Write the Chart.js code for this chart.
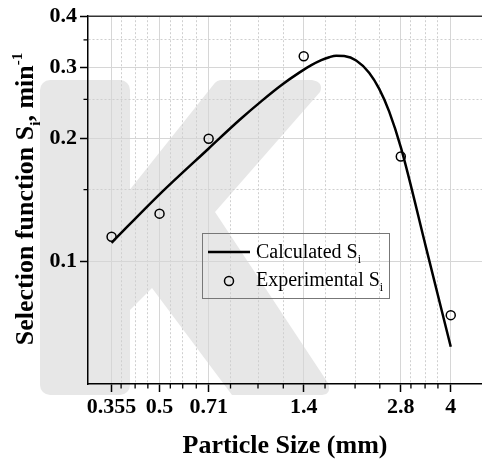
<!DOCTYPE html>
<html><head><meta charset="utf-8">
<script src="https://cdn.jsdelivr.net/npm/chart.js@4"></script>
<style>html,body{margin:0;padding:0;background:#fff}#wrap{width:482px;height:459px;position:relative}</style>
</head><body><div id="wrap"><canvas id="c"></canvas></div>
<script>
// ---- data ----
const calcX = [0.355, 0.5, 0.709, 0.89, 1.042, 1.201, 1.356, 1.478, 1.587, 1.68, 1.765, 1.869, 2.036, 2.233, 2.398, 2.576, 2.807, 3.353, 4.0];
const calcY = [0.1111, 0.1461, 0.1891, 0.2233, 0.2485, 0.2718, 0.2907, 0.3032, 0.3119, 0.3172, 0.3199, 0.3193, 0.3115, 0.2907, 0.2656, 0.2336, 0.1894, 0.1081, 0.0617];
const expX = [0.355, 0.5, 0.71, 1.4, 2.8, 4];
const expY = [0.115, 0.131, 0.200, 0.319, 0.181, 0.0738];
const xMajorTicks = [0.355, 0.5, 0.71, 1.4, 2.8, 4];
const xMinorTicks = [0.38, 0.42, 0.46, 0.54, 0.59, 0.65, 0.83, 1.01, 1.21, 1.63, 2.02, 2.41, 3.01, 3.33, 3.65];
const yMajorTicks = [0.1, 0.2, 0.3, 0.4];
const yMinorTicks = [0.15, 0.25, 0.35];
const seriesNames = ['Calculated S', 'Experimental S'];
const seriesSub = 'i';
const xTitle = 'Particle Size (mm)';
const yTitleParts = [{t: 'Selection function S'}, {t: 'i', sub: true}, {t: ', min'}, {t: '-1', sup: true}];

const FAM = "'Liberation Serif', 'Times New Roman', serif";

function buildTicks(major, minor) {
  return major.map(v => ({value: v, major: true}))
    .concat(minor.map(v => ({value: v, major: false})))
    .sort((a, b) => a.value - b.value);
}

function drawRich(ctx, parts, x, y, size, weight, align) {
  const small = Math.round(size * 0.58);
  let total = 0;
  parts.forEach(p => {
    ctx.font = `${weight} ${(p.sub || p.sup) ? small : size}px ${FAM}`;
    p.w = ctx.measureText(p.t).width;
    total += p.w;
  });
  let cx = align === 'center' ? x - total / 2 : x;
  parts.forEach(p => {
    ctx.font = `${weight} ${(p.sub || p.sup) ? small : size}px ${FAM}`;
    const dy = p.sub ? size * 0.26 : (p.sup ? -size * 0.42 : 0);
    ctx.fillText(p.t, cx, y + dy);
    cx += p.w;
  });
}

const watermark = {
  id: 'watermark',
  beforeDraw(chart) {
    const ctx = chart.ctx;
    ctx.save();
    ctx.fillStyle = '#fff';
    ctx.fillRect(0, 0, chart.width, chart.height);
    ctx.fillStyle = '#e7e7e7';
    ctx.beginPath();
    if (ctx.roundRect) ctx.roundRect(40, 80, 90, 315, 10); else ctx.rect(40, 80, 90, 315);
    ctx.fill();
    ctx.beginPath();
    ctx.moveTo(128, 192);
    ctx.lineTo(214, 84);
    ctx.quadraticCurveTo(217, 80, 222, 80);
    ctx.lineTo(312, 80);
    ctx.quadraticCurveTo(324, 82, 320, 92);
    ctx.lineTo(215, 212);
    ctx.lineTo(328, 383);
    ctx.quadraticCurveTo(332, 394, 322, 395);
    ctx.lineTo(232, 395);
    ctx.lineTo(152, 288);
    ctx.lineTo(128, 312);
    ctx.closePath();
    ctx.fill();
    ctx.restore();
  }
};

const extras = {
  id: 'extras',
  afterDraw(chart) {
    const ctx = chart.ctx;
    const a = chart.chartArea;
    const xs = chart.scales.x, ys = chart.scales.y;
    ctx.save();
    // top frame line
    ctx.strokeStyle = '#333';
    ctx.lineWidth = 1.5;
    ctx.beginPath();
    ctx.moveTo(a.left, a.top);
    ctx.lineTo(a.right, a.top);
    ctx.stroke();
    // minor tick marks
    ctx.strokeStyle = '#000';
    ctx.lineWidth = 1.3;
    ctx.beginPath();
    xMinorTicks.forEach(v => {
      const p = xs.getPixelForValue(v);
      ctx.moveTo(p, a.bottom);
      ctx.lineTo(p, a.bottom + 4.5);
    });
    yMinorTicks.forEach(v => {
      const p = ys.getPixelForValue(v);
      ctx.moveTo(a.left, p);
      ctx.lineTo(a.left - 4.5, p);
    });
    ctx.stroke();
    // y title with sub/superscript
    ctx.fillStyle = '#000';
    ctx.textBaseline = 'alphabetic';
    ctx.translate(33, 199);
    ctx.rotate(-Math.PI / 2);
    drawRich(ctx, yTitleParts.map(p => Object.assign({}, p)), 0, 0, 26, 'bold', 'center');
    ctx.restore();

    // legend
    ctx.save();
    const bx = 202, by = 233, bw = 187, bh = 65;
    ctx.strokeStyle = '#777';
    ctx.lineWidth = 1;
    ctx.strokeRect(bx + 0.5, by + 0.5, bw, bh);
    const d0 = chart.data.datasets[0], d1 = chart.data.datasets[1];
    ctx.strokeStyle = d0.borderColor;
    ctx.lineWidth = d0.borderWidth;
    ctx.beginPath();
    ctx.moveTo(208, 252);
    ctx.lineTo(250, 252);
    ctx.stroke();
    ctx.lineWidth = d1.pointBorderWidth;
    ctx.strokeStyle = d1.pointBorderColor;
    ctx.beginPath();
    ctx.arc(229, 281, d1.pointRadius, 0, Math.PI * 2);
    ctx.stroke();
    ctx.fillStyle = '#000';
    ctx.textBaseline = 'alphabetic';
    drawRich(ctx, [{t: seriesNames[0]}, {t: seriesSub, sub: true}], 256, 258, 20, 'normal', 'left');
    drawRich(ctx, [{t: seriesNames[1]}, {t: seriesSub, sub: true}], 256, 286, 20, 'normal', 'left');
    ctx.restore();
  }
};

const tickFont = {family: FAM, weight: 'bold', size: 22};

new Chart(document.getElementById('c'), {
  type: 'line',
  data: {
    datasets: [
      {
        label: seriesNames[0],
        data: calcX.map((x, i) => ({x: x, y: calcY[i]})),
        borderColor: '#000',
        borderWidth: 2.5,
        pointRadius: 0,
        cubicInterpolationMode: 'monotone',
        fill: false
      },
      {
        label: seriesNames[1],
        data: expX.map((x, i) => ({x: x, y: expY[i]})),
        showLine: false,
        pointRadius: 4.5,
        pointBorderWidth: 1.5,
        pointBorderColor: '#000',
        pointBackgroundColor: 'rgba(0,0,0,0)',
        borderColor: '#000'
      }
    ]
  },
  options: {
    responsive: true,
    maintainAspectRatio: false,
    animation: false,
    devicePixelRatio: 1,
    layout: {autoPadding: false, padding: {top: 14, right: 0, left: 0, bottom: 0}},
    plugins: {legend: {display: false}, tooltip: {enabled: false}},
    scales: {
      x: {
        type: 'logarithmic',
        position: 'bottom',
        min: 0.3,
        max: 5,
        afterBuildTicks: s => { s.ticks = buildTicks(xMajorTicks, xMinorTicks); },
        afterFit: s => { s.height = 75; s.paddingRight = 0; s.paddingLeft = 0; },
        ticks: {
          autoSkip: false,
          maxRotation: 0,
          padding: 2,
          color: '#000',
          font: tickFont,
          callback: (v, i, t) => (t[i] && t[i].major) ? String(v) : ''
        },
        grid: {
          color: c => (c.tick && c.tick.major) ? '#d6d6d6' : '#cfcfcf',
          lineWidth: 1,
          tickLength: 8,
          tickWidth: 1.5,
          tickColor: c => (c.tick && c.tick.major) ? '#000' : 'rgba(0,0,0,0)'
        },
        border: {
          color: '#000',
          width: 1.5,
          dash: c => (c.tick && !c.tick.major) ? [2, 2] : []
        },
        title: {
          display: true,
          text: xTitle,
          color: '#000',
          font: {family: FAM, weight: 'bold', size: 26, lineHeight: 1},
          padding: {top: 0, bottom: 0}
        }
      },
      y: {
        type: 'logarithmic',
        position: 'left',
        min: 0.05,
        max: 0.4,
        afterBuildTicks: s => { s.ticks = buildTicks(yMajorTicks, yMinorTicks); },
        afterFit: s => { s.width = 88; },
        ticks: {
          autoSkip: false,
          padding: 3,
          color: '#000',
          font: tickFont,
          callback: (v, i, t) => (t[i] && t[i].major) ? String(v) : ''
        },
        grid: {
          color: c => (c.tick && c.tick.major) ? '#d6d6d6' : '#cfcfcf',
          lineWidth: 1,
          tickLength: 8,
          tickWidth: 1.5,
          tickColor: c => (c.tick && c.tick.major) ? '#000' : 'rgba(0,0,0,0)'
        },
        border: {
          color: '#000',
          width: 1.5,
          dash: c => (c.tick && !c.tick.major) ? [2, 2] : []
        }
      }
    }
  },
  plugins: [watermark, extras]
});
</script>
</body></html>
